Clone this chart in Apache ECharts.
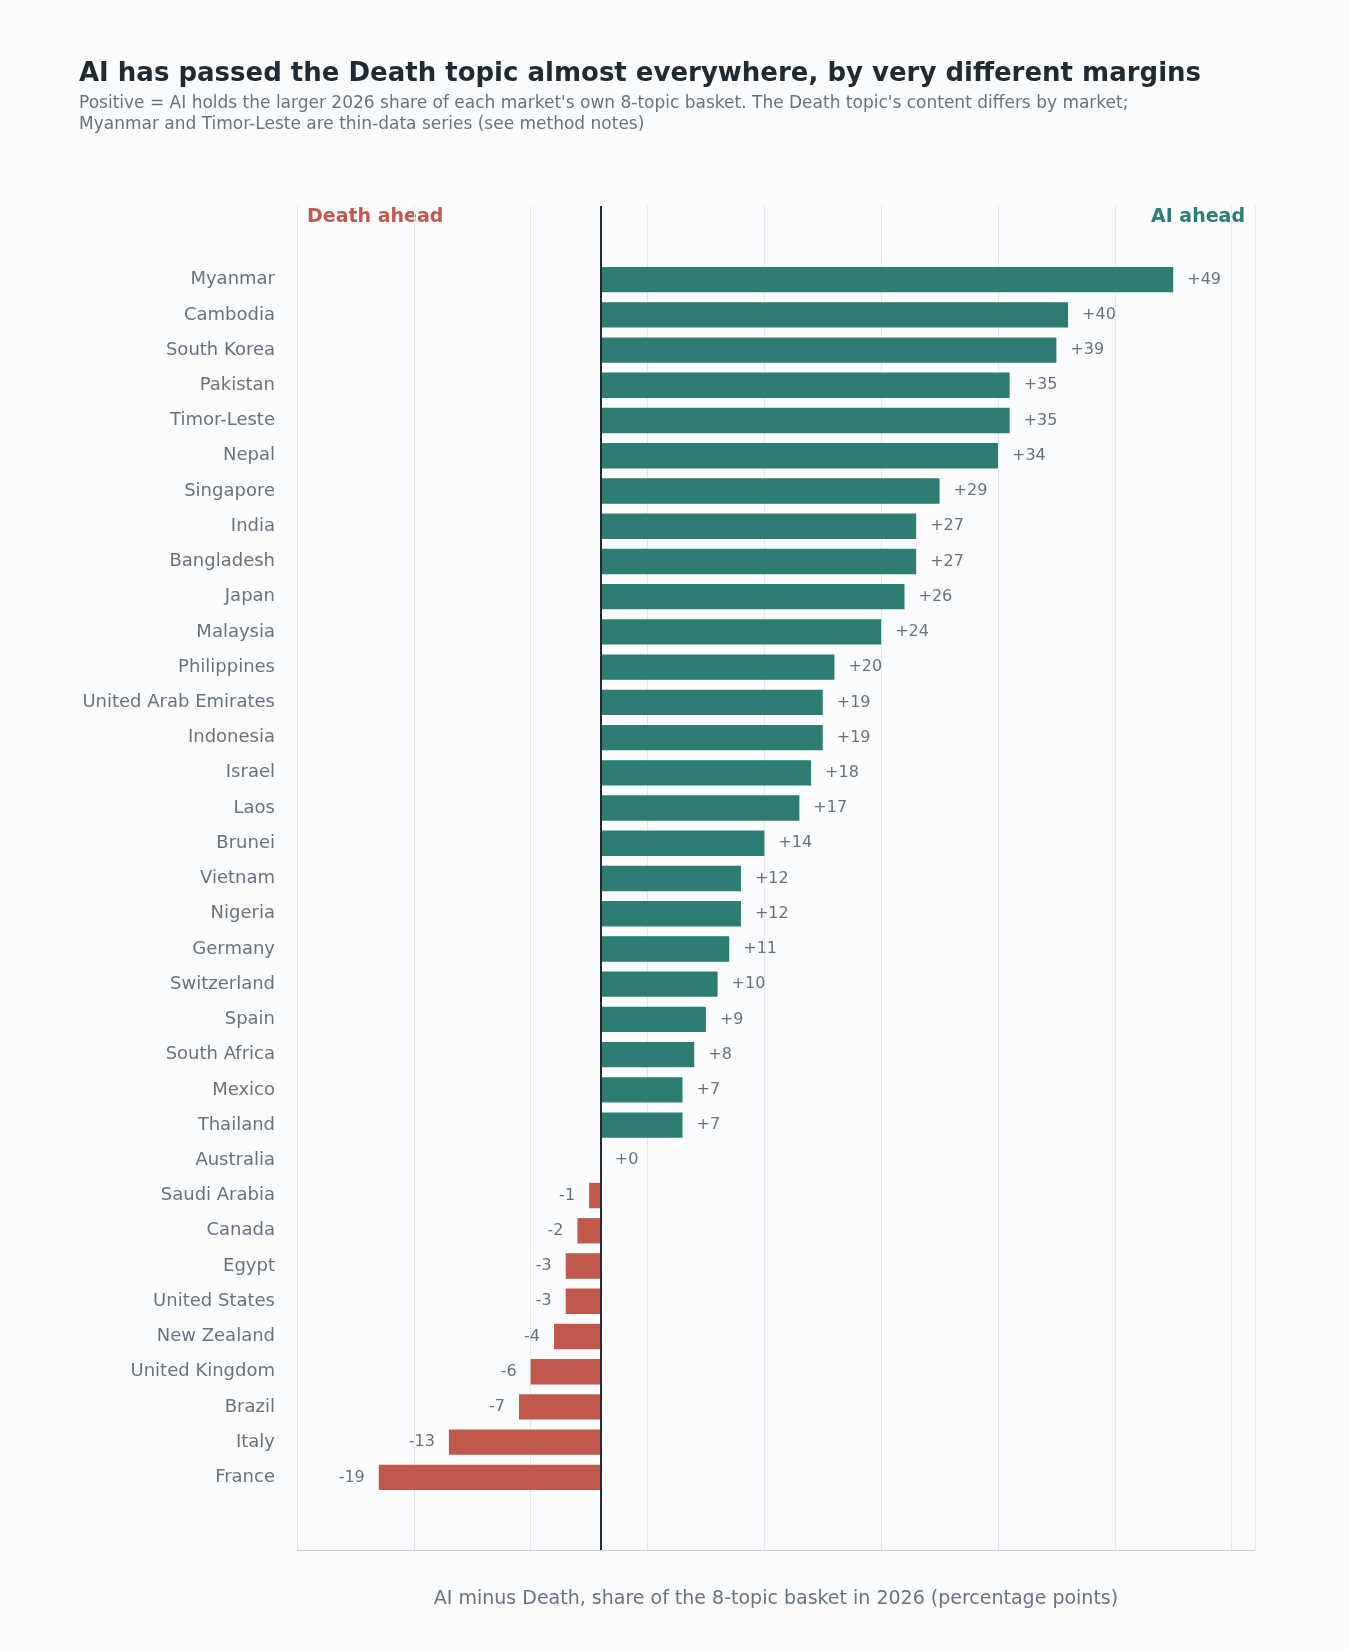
<!DOCTYPE html>
<html>
<head>
<meta charset="utf-8" />
<script src="https://cdn.jsdelivr.net/npm/echarts@6/dist/echarts.min.js"></script>
<style>body{margin:0;background:#fbfcfd;}</style>
</head>
<body>
<div id="main" style="width:1350px;height:1650px;"></div>
<script>
var countries = ['Myanmar','Cambodia','South Korea','Pakistan','Timor-Leste','Nepal','Singapore','India','Bangladesh','Japan','Malaysia','Philippines','United Arab Emirates','Indonesia','Israel','Laos','Brunei','Vietnam','Nigeria','Germany','Switzerland','Spain','South Africa','Mexico','Thailand','Australia','Saudi Arabia','Canada','Egypt','United States','New Zealand','United Kingdom','Brazil','Italy','France'];
var gaps = [49,40,39,35,35,34,29,27,27,26,24,20,19,19,18,17,14,12,12,11,10,9,8,7,7,0,-1,-2,-3,-3,-4,-6,-7,-13,-19];
var xTicks = [-20,-10,0,10,20,30,40,50];

var teal = '#2e7d73', red = '#c0594b', grey = '#66737f';
var chart = echarts.init(document.getElementById('main'));
var L = 297, R = 95;
chart.setOption({
  backgroundColor: '#fbfcfd',
  textStyle: {fontFamily: 'DejaVu Sans'},
  title: {
    text: 'AI has passed the Death topic almost everywhere, by very different margins',
    subtext: "Positive = AI holds the larger 2026 share of each market's own 8-topic basket. The Death topic's content differs by market;\nMyanmar and Timor-Leste are thin-data series (see method notes)",
    left: 74, top: 56,
    textStyle: {fontSize: 26, fontWeight: 'bold', color: '#1f2a33'},
    subtextStyle: {fontSize: 17, color: grey, lineHeight: 21},
    itemGap: 6
  },
  graphic: [
    {type: 'text', left: 307, top: 208, style: {text: 'Death ahead', fill: red, font: 'bold 19px DejaVu Sans'}},
    {type: 'text', right: 105, top: 208, style: {text: 'AI ahead', fill: teal, font: 'bold 19px DejaVu Sans'}}
  ],
  grid: [
    {left: L, right: R, top: 206, bottom: 100},
    {left: L, right: R, top: 262, bottom: 155}
  ],
  xAxis: [
    {gridIndex: 0, type: 'value', min: -26, max: 56, interval: 10,
     axisLabel: {color: grey, fontSize: 20, formatter: function (v) { return xTicks.indexOf(v) < 0 ? '' : String(v).replace('-', '\u2212'); }},
     axisLine: {show: true, lineStyle: {color: '#c8cdd2'}}, axisTick: {show: false},
     splitLine: {lineStyle: {color: '#e6e8eb'}},
     name: 'AI minus Death, share of the 8-topic basket in 2026 (percentage points)',
     nameLocation: 'middle', nameGap: 40, nameTextStyle: {color: grey, fontSize: 19}},
    {gridIndex: 1, type: 'value', min: -26, max: 56, show: false}
  ],
  yAxis: [
    {gridIndex: 0, type: 'value', show: false},
    {gridIndex: 1, type: 'category', data: countries, inverse: true,
     axisLine: {show: false}, axisTick: {show: false},
     axisLabel: {color: grey, fontSize: 18, margin: 22}}
  ],
  series: [
    {type: 'line', xAxisIndex: 0, yAxisIndex: 0, data: [], silent: true,
     markLine: {symbol: 'none', silent: true, label: {show: false},
       lineStyle: {color: '#1f2a33', width: 2, type: 'solid'}, data: [{xAxis: 0}]}},
    {type: 'bar', xAxisIndex: 1, yAxisIndex: 1, barWidth: '72%',
     data: gaps.map(function (v) {
       return {value: v, itemStyle: {color: v < 0 ? red : teal},
         label: {show: true, position: v < 0 ? 'left' : 'right', distance: 14,
           color: grey, fontSize: 16, formatter: (v < 0 ? '' : '+') + v}};
     })}
  ]
});
</script>
</body>
</html>
